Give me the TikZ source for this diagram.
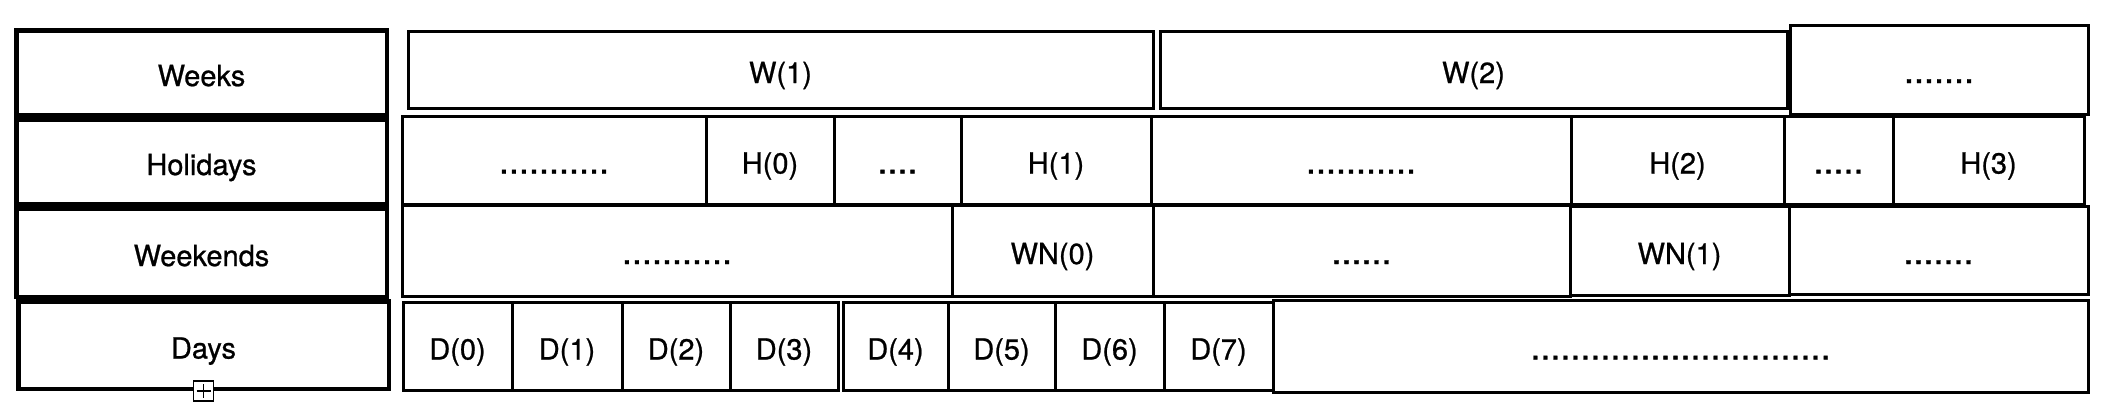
\documentclass[tikz,border=0pt]{standalone}
\usepackage{fontspec}
\setmainfont[FakeBold=0.8]{TeX Gyre Heros}
\usetikzlibrary{positioning}

\begin{document}
\begin{tikzpicture}[x=1pt, y=-1pt, rowname/.style={rectangle, draw, line width=4.5pt, minimum width=370.5pt, text height=27pt, text depth=0pt, font=\fontsize{29}{32}\selectfont},cell/.style={rectangle, draw, line width=3pt, outer sep=0pt, inner sep=0pt, text height=27pt, text depth=0pt, font=\fontsize{29}{32}\selectfont},filler/.style={cell, font=\fontsize{36}{40}\selectfont},toggle/.style={rectangle, draw, fill=white, line width=1.2pt, minimum size=20pt, inner sep=0pt}]
                \useasboundingbox (0,0) rectangle (2104,418);
                % row names
                \node[rowname, minimum height=84.5pt] (row_weeks) at (201.5,72.5) {Weeks};
                \node[rowname, minimum height=84.5pt, below=0pt of row_weeks] (row_holidays) {Holidays};
                \node[rowname, minimum height=88.5pt, below=0pt of row_holidays] (row_weekends) {Weekends};
                \node[rowname, minimum height=87.5pt, below=0pt of row_weekends, xshift=2pt] (row_days) {Days};
                \node[toggle] (toggle_days) at (row_days.south) {};
                \draw[line width=1.2pt] (toggle_days.center) +(-7,0) -- +(7,0) +(0,-7) -- +(0,7);
                % weeks
                \node[cell, minimum width=745pt, minimum height=77pt, anchor=north west] (w_1) at (408,31) {W(1)};
                \node[cell, minimum width=627pt, minimum height=77pt, right=7pt of w_1] (w_2) {W(2)};
                \node[filler, minimum width=298pt, minimum height=89pt, right=3pt of w_2] (w_more) {.......};
                % holidays
                \node[filler, minimum width=304pt, minimum height=88pt, anchor=north west] (h_gap0) at (402,116) {...........};
                \node[cell, minimum width=128pt, minimum height=88pt, right=0pt of h_gap0] (h_0) {H(0)};
                \node[filler, minimum width=127pt, minimum height=88pt, right=0pt of h_0] (h_gap1) {....};
                \node[cell, minimum width=190pt, minimum height=88pt, right=0pt of h_gap1] (h_1) {H(1)};
                \node[filler, minimum width=420pt, minimum height=88pt, right=0pt of h_1] (h_gap2) {...........};
                \node[cell, minimum width=213pt, minimum height=88pt, right=0pt of h_gap2] (h_2) {H(2)};
                \node[filler, minimum width=109pt, minimum height=88pt, right=0pt of h_2] (h_gap3) {.....};
                \node[cell, minimum width=191pt, minimum height=88pt, right=0pt of h_gap3] (h_3) {H(3)};
                % weekends
                \node[filler, minimum width=550pt, minimum height=91pt, anchor=north west] (wn_gap0) at (402,205) {...........};
                \node[cell, minimum width=201pt, minimum height=91pt, right=0pt of wn_gap0] (wn_0) {WN(0)};
                \node[filler, minimum width=417pt, minimum height=91pt, right=0pt of wn_0] (wn_gap1) {......};
                \node[cell, minimum width=219pt, minimum height=89pt, right=0pt of wn_gap1] (wn_1) {WN(1)};
                \node[filler, minimum width=299pt, minimum height=88pt, right=0pt of wn_1] (wn_more) {.......};
                % days
                \node[cell, minimum width=109pt, minimum height=88pt, anchor=north west] (d_0) at (403,302) {D(0)};
                \node[cell, minimum width=110pt, minimum height=88pt, right=0pt of d_0] (d_1) {D(1)};
                \node[cell, minimum width=108pt, minimum height=88pt, right=0pt of d_1] (d_2) {D(2)};
                \node[cell, minimum width=108pt, minimum height=88pt, right=0pt of d_2] (d_3) {D(3)};
                \node[cell, minimum width=105pt, minimum height=88pt, right=5pt of d_3] (d_4) {D(4)};
                \node[cell, minimum width=107pt, minimum height=88pt, right=0pt of d_4] (d_5) {D(5)};
                \node[cell, minimum width=109pt, minimum height=88pt, right=0pt of d_5] (d_6) {D(6)};
                \node[cell, minimum width=109pt, minimum height=88pt, right=0pt of d_6] (d_7) {D(7)};
                \node[filler, minimum width=815pt, minimum height=92pt, right=0pt of d_7] (d_more) {..............................};
            \end{tikzpicture}
\end{document}
